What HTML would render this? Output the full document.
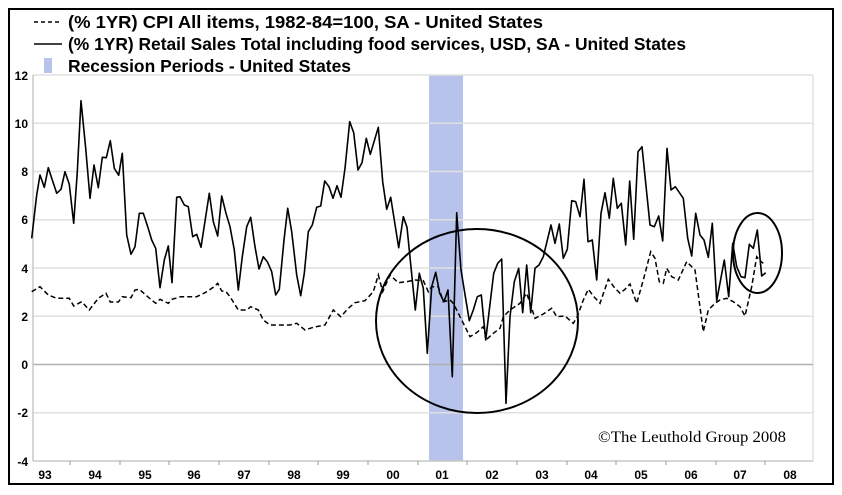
<!DOCTYPE html>
<html><head><meta charset="utf-8"><style>
html,body{margin:0;padding:0;background:#fff}
svg{display:block}
</style></head><body>
<svg width="842" height="495" viewBox="0 0 842 495" xmlns="http://www.w3.org/2000/svg" font-family="Liberation Sans, Arial, sans-serif">
<rect x="0" y="0" width="842" height="495" fill="#fff"/>
<rect x="9" y="9" width="824" height="475" fill="none" stroke="#000" stroke-width="2"/>
<!-- legend -->
<line x1="34" y1="22" x2="62" y2="22" stroke="#000" stroke-width="1.5" stroke-dasharray="4,3"/>
<line x1="34" y1="44" x2="62" y2="44" stroke="#000" stroke-width="1.5"/>
<rect x="44" y="58" width="8" height="15" fill="#b8c3eb"/>
<g font-size="17.5" font-weight="bold">
<text x="68" y="28" textLength="475" lengthAdjust="spacingAndGlyphs">(% 1YR) CPI All items, 1982-84=100, SA - United States</text>
<text x="68" y="50" textLength="618" lengthAdjust="spacingAndGlyphs">(% 1YR) Retail Sales Total including food services, USD, SA - United States</text>
<text x="68" y="72" textLength="283" lengthAdjust="spacingAndGlyphs">Recession Periods - United States</text>
</g>
<!-- recession -->
<rect x="429" y="75" width="34" height="386" fill="#b8c3eb"/>
<!-- grid -->
<g stroke="#e0e0e0" stroke-width="1.5">
<line x1="33" y1="75" x2="813" y2="75"/>
<line x1="33" y1="123.25" x2="813" y2="123.25"/>
<line x1="33" y1="171.5" x2="813" y2="171.5"/>
<line x1="33" y1="219.75" x2="813" y2="219.75"/>
<line x1="33" y1="268" x2="813" y2="268"/>
<line x1="33" y1="316.25" x2="813" y2="316.25"/>
<line x1="33" y1="412.75" x2="813" y2="412.75"/>
<line x1="813" y1="75" x2="813" y2="461"/>
</g>
<line x1="33" y1="364.5" x2="813" y2="364.5" stroke="#b0b0b0" stroke-width="1.5"/>
<line x1="33" y1="75" x2="33" y2="461" stroke="#c8c8c8" stroke-width="1.5"/>
<line x1="33" y1="461" x2="813" y2="461" stroke="#c8c8c8" stroke-width="1.5"/>
<g stroke="#999" stroke-width="1">
<line x1="70" y1="461" x2="70" y2="465"/><line x1="120" y1="461" x2="120" y2="465"/><line x1="169" y1="461" x2="169" y2="465"/><line x1="219" y1="461" x2="219" y2="465"/><line x1="269" y1="461" x2="269" y2="465"/><line x1="318" y1="461" x2="318" y2="465"/><line x1="368" y1="461" x2="368" y2="465"/><line x1="418" y1="461" x2="418" y2="465"/><line x1="467" y1="461" x2="467" y2="465"/><line x1="517" y1="461" x2="517" y2="465"/><line x1="567" y1="461" x2="567" y2="465"/><line x1="616" y1="461" x2="616" y2="465"/><line x1="666" y1="461" x2="666" y2="465"/><line x1="716" y1="461" x2="716" y2="465"/><line x1="765" y1="461" x2="765" y2="465"/>
</g>
<g font-size="12" font-weight="bold" text-anchor="end">
<text x="28" y="80">12</text><text x="28" y="128">10</text><text x="28" y="176">8</text><text x="28" y="224">6</text><text x="28" y="273">4</text><text x="28" y="321">2</text><text x="28" y="369">0</text><text x="28" y="417">-2</text><text x="28" y="466">-4</text>
</g>
<g font-size="12" font-weight="bold" text-anchor="middle">
<text x="45" y="479">93</text><text x="95" y="479">94</text><text x="145" y="479">95</text><text x="194" y="479">96</text><text x="244" y="479">97</text><text x="294" y="479">98</text><text x="343" y="479">99</text><text x="393" y="479">00</text><text x="442" y="479">01</text><text x="492" y="479">02</text><text x="542" y="479">03</text><text x="591" y="479">04</text><text x="641" y="479">05</text><text x="691" y="479">06</text><text x="740" y="479">07</text><text x="790" y="479">08</text>
</g>
<!-- CPI dashed -->
<polyline fill="none" stroke="#000" stroke-width="1.5" stroke-dasharray="5,3" points="31.7,291.7 40,286.7 48.3,295 56.7,298.3 65,298.3 69.3,298.3 73.7,306 81.7,301.7 89.3,310 98.3,298.3 106,293.3 110.3,302 118.3,302 122.3,296.7 131,297.7 135,290 139.3,289.3 147.7,296.7 155.7,303.3 160,299.3 168.3,303.3 172,299.3 181,296.7 196.7,296.7 205,292.7 213.3,287.3 217.7,283.3 221.7,291 226,291.7 230,296.7 238.3,310 246.7,310 250.7,306.7 258.3,310 263.3,320 270,325 290,325 296.7,323.3 305,330 313.3,327.3 325,325 333.3,310 340.7,316.7 348.3,308.3 355,302.7 365,300.7 373.3,291.7 378.3,275 382.7,291.7 390,275 398.3,282.7 406.7,281.7 415,280 423.3,280.7 428.3,291.7 431.7,286.7 438.3,286.7 443.3,301.7 450,300 453.3,303.3 461.7,320 470,336.7 476.7,332.7 483.3,326.7 486.7,339.3 493.3,333.3 500,328.3 503.3,316.7 510,310 520,303.3 526.7,293.3 535,318.3 543.3,314 551.7,308.3 556.7,316.7 565,316 573.3,323.3 577.3,316.7 583.3,300 588.3,289.3 593.3,296 600,303.3 608.3,279.3 615,288.3 620,293.3 625,289.3 630,284 636.7,303.3 643.3,280 650.7,251.7 655,258.3 659.3,281.7 663.3,283.3 666.7,268.3 671.7,276.7 678.3,280 686.7,261.7 695,270 703.3,331.7 708.3,310 715,303.3 720,300 726.7,298.3 733.3,301.7 740,306.7 745,316 751.7,286.7 756.7,256.7 760,260.7 763.3,263.3"/>
<!-- Retail solid -->
<polyline fill="none" stroke="#000" stroke-width="1.6" stroke-linejoin="round" points="31.7,238.3 36.7,195 40,175 44.3,187.3 48.3,167.7 52.3,180 56.7,193.3 61,189.3 65,171.7 69.3,184.3 73.7,223.3 77.3,171.7 81,100.7 85.7,148.3 90,198.3 94,165 98.3,187.7 102.3,157.3 106.3,157.7 110.3,140.7 114.3,168.3 118.7,175.3 122.3,153.3 126.7,235 131,254.3 135,246.7 139.3,213.3 143.3,213.3 147.7,226.7 151.7,240 155.7,248.3 160,287.7 164.3,260 168.3,246 172,282.7 176.7,197.3 180,196.7 184.3,205 188.3,206.7 192.7,236.7 196.7,234.3 201,247.3 209.3,193.3 213.3,221.7 217.7,236 221.7,196 226,213.3 230,226.7 234.3,250 238.3,290 242.3,256.7 246.7,226.7 250.7,217.3 255,246.7 259,269 263.3,256.7 267.3,261.7 271.7,271.7 275.7,295 279.3,289.3 284,240 287.7,208.3 291.7,231.7 296.7,275 300.7,295.7 304.3,273.3 308.3,231.7 312.3,225 316.7,207.3 320.7,206 324.7,181 329,186.7 333,198.3 337,185.7 341,197.3 345,168.3 349.7,121.7 353.7,132.7 358,170 362,162.7 366.3,138.3 370.3,154.3 378.3,127.3 382.7,181.7 386.7,209.3 390.7,197.3 398.7,247.7 403.3,216.7 407,227.3 415.3,310 419.3,273.3 423.3,288.3 427.3,353.3 431.7,286.7 435.7,272.3 439.7,293.3 444,301.7 448,290 452.3,376.7 456.7,212.7 461,270 469.3,320.7 473.3,310 477.3,296.7 481.3,295 485.7,340 493.7,273.3 497.7,263.3 501.7,259 506,403.3 510,316.7 514.3,281.7 518.7,268.3 522.7,312.7 526.7,265 530.7,312.7 535,268.3 539,265 543.3,256.7 551,225 555,243.3 559.3,224 563.3,258.3 567.3,249.3 571.7,200.7 575.7,201.7 580,216.7 584,179.3 588,241.7 592.3,240 596.7,280 601,213.3 605,192.7 609.3,218.3 613.3,178.3 617.3,208.3 621.3,203.3 625.7,245 629.7,181 633.7,239.3 638,151.7 642,146.7 650,225 654.3,226.7 658.7,216 662.7,241 667,148.3 671,190 675.3,186.7 683.3,198.3 687.7,238.3 691.7,256 695.7,213.3 700,235 704,240 708.3,257.3 712.3,223.3 716.7,300.7 724.3,260 728.7,296.7 732.7,243.3 736.7,266.7 741,276.7 745,277.7 749.3,244.3 753.3,248.3 757.3,230 761.7,276 765.7,272.7"/>
<!-- annotation ellipses -->
<ellipse cx="477" cy="321" rx="101" ry="92" fill="none" stroke="#000" stroke-width="2"/>
<ellipse cx="757.5" cy="253" rx="24.5" ry="40" fill="none" stroke="#000" stroke-width="2"/>
<text x="598" y="442" style="font-family:'Liberation Serif',serif" font-size="16" textLength="188" lengthAdjust="spacingAndGlyphs">©The Leuthold Group 2008</text>
</svg>
</body></html>
